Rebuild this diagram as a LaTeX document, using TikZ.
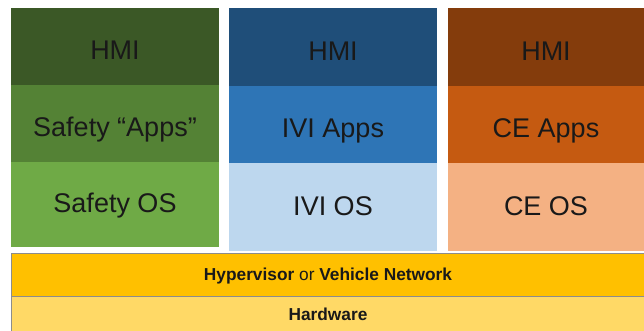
\documentclass[tikz,border=0pt]{standalone}
\usepackage{fontspec}
\setmainfont{Liberation Sans}
\begin{document}
\begin{tikzpicture}[x=1pt,y=-1pt,
  cell/.style={anchor=north west, inner sep=0pt, outer sep=0pt,
    text=black!90, text height=26pt, text depth=0pt,
    font=\fontsize{27}{31}\selectfont},
  osrow/.style={text height=16pt},
  barcell/.style={cell, draw=black!45, line width=0.6pt,
    text height=12.5pt, text depth=0pt,
    font=\fontsize{17.3}{20}\selectfont}]
\definecolor{gHMI}{HTML}{3B5826}
\definecolor{gApp}{HTML}{548235}
\definecolor{gOS}{HTML}{6FAA46}
\definecolor{bHMI}{HTML}{1F4E79}
\definecolor{bApp}{HTML}{2E75B6}
\definecolor{bOS}{HTML}{BDD7EE}
\definecolor{oHMI}{HTML}{843C0C}
\definecolor{oApp}{HTML}{C55A11}
\definecolor{oOS}{HTML}{F4B183}
\definecolor{hyp}{HTML}{FFC000}
\definecolor{hw}{HTML}{FFD966}
\useasboundingbox[fill=white] (0,0) rectangle (644,330);
% safety stack
\node[cell, fill=gHMI, minimum width=208pt, minimum height=77pt] (sh) at (11,8) {HMI};
\node[cell, fill=gApp, minimum width=208pt, minimum height=77pt] (sa) at (11,85) {Safety “Apps”};
\node[cell, osrow, fill=gOS, minimum width=208pt, minimum height=85pt] (so) at (11,162) {Safety OS};
% infotainment stack
\node[cell, fill=bHMI, minimum width=208pt, minimum height=78pt] (ih) at (229,8) {HMI};
\node[cell, fill=bApp, minimum width=208pt, minimum height=77pt] (ia) at (229,86) {IVI Apps};
\node[cell, osrow, fill=bOS, minimum width=208pt, minimum height=88pt] (io) at (229,163) {IVI OS};
% consumer electronics stack
\node[cell, fill=oHMI, minimum width=196pt, minimum height=78pt] (ch) at (448,8) {HMI};
\node[cell, fill=oApp, minimum width=196pt, minimum height=77pt] (ca) at (448,86) {CE Apps};
\node[cell, osrow, fill=oOS, minimum width=196pt, minimum height=88pt] (co) at (448,163) {CE OS};
% shared layers
\node[barcell, fill=hyp, minimum width=634pt, minimum height=43pt] (hv) at (11,253)
  {\textbf{Hypervisor} or \textbf{Vehicle Network}};
\node[barcell, fill=hw, minimum width=634pt, minimum height=36pt] (hwr) at (11,296)
  {\textbf{Hardware}};
\end{tikzpicture}
\end{document}
